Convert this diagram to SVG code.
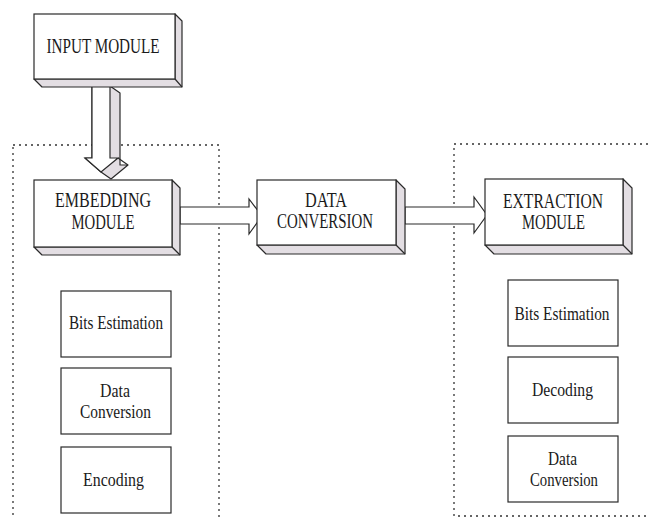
<svg xmlns="http://www.w3.org/2000/svg" width="650" height="518" viewBox="0 0 650 518">
<style>
.bg{fill:#ffffff}
.dot{fill:none;stroke:#333;stroke-width:1.3;stroke-dasharray:2 4}
.front{fill:#ffffff;stroke:#2a2a2a;stroke-width:1.2}
.side{fill:#e3dee3;stroke:#2a2a2a;stroke-width:1.2;stroke-linejoin:round}
.edge{stroke:#2a2a2a;stroke-width:1.2;fill:none}
.arrow{fill:#ffffff;stroke:#2a2a2a;stroke-width:1.2;stroke-linejoin:miter}
.big{font-family:"Liberation Serif","Times New Roman",serif;font-size:20px;fill:#1a1a1a;text-anchor:middle}
.small{font-family:"Liberation Serif","Times New Roman",serif;font-size:18px;fill:#1a1a1a;text-anchor:middle}
.box{fill:#ffffff;stroke:#2a2a2a;stroke-width:1.2}
</style>
<rect class="bg" x="0" y="0" width="650" height="518"/>

<g id="groups">
<rect class="dot" x="13" y="145" width="206" height="390"/>
<rect class="dot" x="454" y="144" width="210" height="372"/>
</g>

<g id="connectors">
<g id="arrow-input-embedding">
<polygon class="side" points="92,86 110,86 120,93 120,165 128,165 111,179 101,172 85,158 92,158"/>
<polygon class="arrow" points="92,86 110,86 110,158 118,158 101,172 85,158 92,158"/>
<line class="edge" x1="118" y1="158" x2="128" y2="165"/>
</g>
<polygon id="arrow-embedding-data" class="arrow" points="180,207 249,207 249,199 262,216 249,234 249,224 180,224"/>
<polygon id="arrow-data-extraction" class="arrow" points="405,207 474,207 474,197 487,215 474,233 474,224 405,224"/>
</g>

<g id="input-module">
<polygon class="side" points="34,79 42,87 182,87 182,21 175,14 175,79"/>
<line class="edge" x1="175" y1="79" x2="182" y2="87"/>
<rect class="front" x="34" y="14" width="141" height="65"/>
<text class="big" x="103" y="53" textLength="113" lengthAdjust="spacingAndGlyphs">INPUT MODULE</text>
</g>

<g id="embedding-module">
<polygon class="side" points="34,247 42,255 180,255 180,188 172,180 172,247"/>
<line class="edge" x1="172" y1="247" x2="180" y2="255"/>
<rect class="front" x="34" y="180" width="138" height="67"/>
<text class="big" x="103" y="207" textLength="96" lengthAdjust="spacingAndGlyphs">EMBEDDING</text>
<text class="big" x="103" y="229" textLength="63" lengthAdjust="spacingAndGlyphs">MODULE</text>
</g>

<g id="data-conversion">
<polygon class="side" points="257,245 266,254 405,254 405,189 396,180 396,245"/>
<line class="edge" x1="396" y1="245" x2="405" y2="254"/>
<rect class="front" x="257" y="180" width="139" height="65"/>
<text class="big" x="326" y="207" textLength="42" lengthAdjust="spacingAndGlyphs">DATA</text>
<text class="big" x="325" y="228" textLength="96" lengthAdjust="spacingAndGlyphs">CONVERSION</text>
</g>

<g id="extraction-module">
<polygon class="side" points="485,245 494,254 632,254 632,188 623,179 623,245"/>
<line class="edge" x1="623" y1="245" x2="632" y2="254"/>
<rect class="front" x="485" y="179" width="138" height="66"/>
<text class="big" x="553" y="208" textLength="100" lengthAdjust="spacingAndGlyphs">EXTRACTION</text>
<text class="big" x="553.5" y="229" textLength="63" lengthAdjust="spacingAndGlyphs">MODULE</text>
</g>

<g id="emb-bits-estimation">
<rect class="box" x="61" y="291" width="110" height="66"/>
<text class="small" x="116" y="329" textLength="94" lengthAdjust="spacingAndGlyphs">Bits Estimation</text>
</g>
<g id="emb-data-conversion">
<rect class="box" x="61" y="368" width="110" height="66"/>
<text class="small" x="115" y="397" textLength="30" lengthAdjust="spacingAndGlyphs">Data</text>
<text class="small" x="115.5" y="418" textLength="71" lengthAdjust="spacingAndGlyphs">Conversion</text>
</g>
<g id="emb-encoding">
<rect class="box" x="61" y="447" width="110" height="66"/>
<text class="small" x="113.5" y="486" textLength="61" lengthAdjust="spacingAndGlyphs">Encoding</text>
</g>

<g id="ext-bits-estimation">
<rect class="box" x="508" y="280" width="110" height="66"/>
<text class="small" x="562" y="320" textLength="95" lengthAdjust="spacingAndGlyphs">Bits Estimation</text>
</g>
<g id="ext-decoding">
<rect class="box" x="508" y="357" width="110" height="66"/>
<text class="small" x="562.5" y="396" textLength="61" lengthAdjust="spacingAndGlyphs">Decoding</text>
</g>
<g id="ext-data-conversion">
<rect class="box" x="508" y="436" width="110" height="66"/>
<text class="small" x="562.5" y="465" textLength="29" lengthAdjust="spacingAndGlyphs">Data</text>
<text class="small" x="564" y="486" textLength="68" lengthAdjust="spacingAndGlyphs">Conversion</text>
</g>
</svg>
